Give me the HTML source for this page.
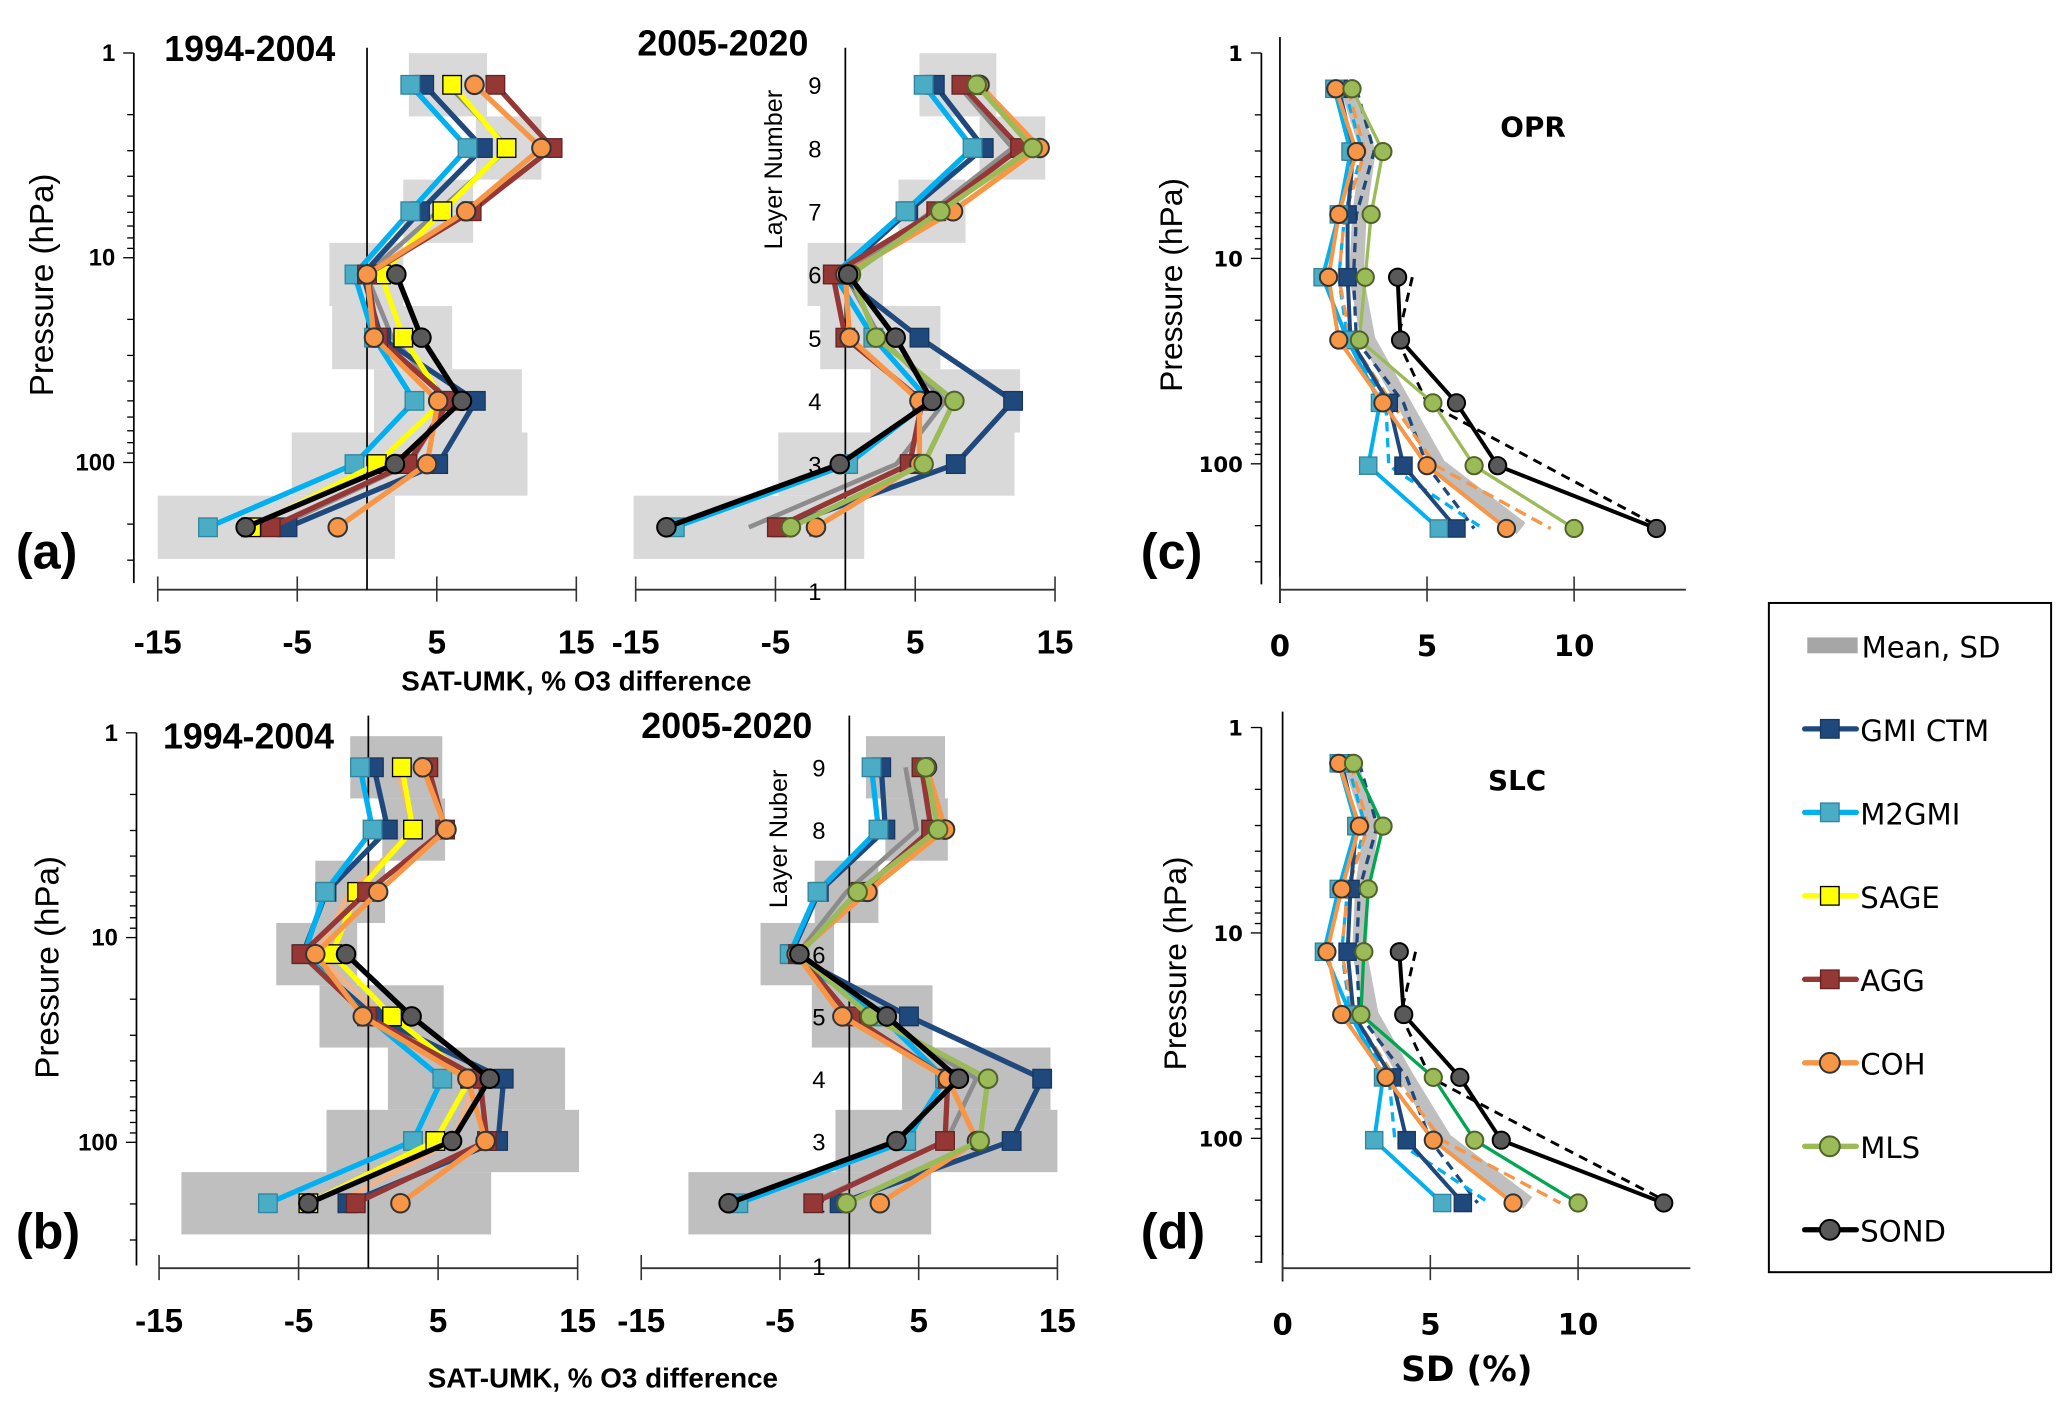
<!DOCTYPE html>
<html><head><meta charset="utf-8">
<style>
html,body{margin:0;padding:0;background:#fff;}
svg{display:block;}
.nar{font-family:"Liberation Sans Narrow","Liberation Sans",sans-serif;}
.dv{font-family:"DejaVu Sans","Liberation Sans",sans-serif;}
</style></head>
<body>
<svg id="fig" xmlns="http://www.w3.org/2000/svg" width="2067" height="1410" viewBox="0 0 1560 1064" preserveAspectRatio="none">
<rect x="0" y="0" width="1560" height="1064" fill="#fff"/>
<g id="layer-boxes"></g>
<g id="layer-axes"></g>
<g id="layer-series"></g>
<g id="layer-text">
<text x="12" y="429" font-size="38" font-weight="bold" class="nar">(a)</text>
<text x="12" y="942" font-size="38" font-weight="bold" class="nar">(b)</text>
<text x="861" y="429" font-size="38" font-weight="bold" class="nar">(c)</text>
<text x="861" y="942" font-size="38" font-weight="bold" class="nar">(d)</text>
<text x="124" y="46" font-size="27" font-weight="bold" class="nar">1994-2004</text>
<text x="481" y="42" font-size="27" font-weight="bold" class="nar">2005-2020</text>
<text x="123" y="565" font-size="27" font-weight="bold" class="nar">1994-2004</text>
<text x="484" y="557" font-size="27" font-weight="bold" class="nar">2005-2020</text>
<text transform="translate(40,215) rotate(-90)" text-anchor="middle" font-size="25" font-family="Liberation Sans, sans-serif">Pressure (hPa)</text>
<text transform="translate(44,730) rotate(-90)" text-anchor="middle" font-size="25" font-family="Liberation Sans, sans-serif">Pressure (hPa)</text>
<text transform="translate(892,215) rotate(-90)" text-anchor="middle" font-size="24" class="nar">Pressure (hPa)</text>
<text transform="translate(895,727) rotate(-90)" text-anchor="middle" font-size="24" class="nar">Pressure (hPa)</text>
<text transform="translate(590,128) rotate(-90)" text-anchor="middle" font-size="19" font-family="Liberation Sans, sans-serif">Layer Number</text>
<text transform="translate(594,633) rotate(-90)" text-anchor="middle" font-size="19" font-family="Liberation Sans, sans-serif">Layer Nuber</text>
<text x="435" y="521" text-anchor="middle" font-size="21" font-weight="bold" class="nar">SAT-UMK, % O3 difference</text>
<text x="455" y="1047" text-anchor="middle" font-size="21" font-weight="bold" class="nar">SAT-UMK, % O3 difference</text>
<text x="1107" y="1042" text-anchor="middle" font-size="26" font-weight="bold" class="dv">SD (%)</text>
<text x="1157" y="103" text-anchor="middle" font-size="21" font-weight="bold" class="dv">OPR</text>
<text x="1145" y="596" text-anchor="middle" font-size="21" font-weight="bold" class="dv">SLC</text>
</g>
<g id="legend">
<rect x="1335" y="455" width="213" height="505" fill="#fff" stroke="#000" stroke-width="1.5"/>
</g>
</svg>
<script>
// ---------- DATA ----------
const layers = [9,8,7,6,5,4,3,2];
const pressureTicks = [1,10,100];
const pressureTickLabels = ["1","10","100"];
const diffTicks = [-15,-5,5,15];
const diffTickLabels = ["-15","-5","5","15"];
const sdTicks = [0,5,10];
const sdTickLabels = ["0","5","10"];
const layerLabels = [1,2,3,4,5,6,7,8,9];
const seriesNames = ["GMI CTM","M2GMI","SAGE","AGG","COH","MLS","SOND"];

// Panel (a) 1994-2004
const a1_gmi  = [4.1,8.3,3.8,-0.3,1.0,7.8,5.1,-5.7];
const a1_m2   = [3.1,7.2,3.1,-0.9,0.5,3.4,-0.9,-11.4];
const a1_sage = [6.1,10.0,5.4,1.0,2.6,5.5,0.7,-8.3];
const a1_agg  = [9.2,13.3,7.5,0.0,0.8,5.9,2.9,-6.9];
const a1_coh  = [7.7,12.5,7.1,0.0,0.5,5.1,4.3,-2.1];
const a1_sond = [null,null,null,2.1,3.9,6.8,2.0,-8.7];
const a1_mean = [5.8,10.15,5.1,-0.05,1.8,5.8,3.05,-6.5];
const a1_sd   = [2.8,2.35,2.5,2.65,4.3,5.3,8.45,8.5];
// Panel (a) 2005-2020
const a2_gmi  = [6.4,9.9,4.5,-0.5,5.3,12.0,7.9,-4.6];
const a2_m2   = [5.6,9.1,4.3,-0.8,2.0,6.0,0.2,-12.2];
const a2_agg  = [8.3,12.5,6.5,-0.9,0.0,5.5,4.6,-4.9];
const a2_coh  = [9.6,13.9,7.7,0.0,0.3,5.3,5.3,-2.1];
const a2_mls  = [9.4,13.4,6.8,0.4,2.2,7.8,5.6,-3.9];
const a2_sond = [null,null,null,0.2,3.6,6.2,-0.4,-12.8];
const a2_mean = [8.05,11.95,6.2,0.0,2.5,7.15,3.65,-6.9];
const a2_sd   = [2.75,2.35,2.4,2.7,4.3,5.35,8.45,8.25];
// Panel (b) 1994-2004
const b1_gmi  = [0.4,1.4,-3.0,-4.7,0.4,9.7,9.3,-1.5];
const b1_m2   = [-0.6,0.3,-3.1,-4.6,-0.1,5.3,3.2,-7.2];
const b1_sage = [2.4,3.2,-0.8,-2.6,1.7,7.3,4.8,-4.3];
const b1_agg  = [4.3,5.5,-0.1,-4.8,-0.1,8.0,8.5,-0.9];
const b1_coh  = [3.9,5.6,0.7,-3.8,-0.4,7.1,8.4,2.3];
const b1_sond = [null,null,null,-1.6,3.1,8.7,6.0,-4.3];
const b1_mean = [2.0,3.25,-1.3,-3.7,0.95,7.75,6.05,-2.3];
const b1_sd   = [3.3,2.25,2.5,2.9,4.45,6.35,9.05,11.1];
// Panel (b) 2005-2020
const b2_gmi  = [2.3,2.6,-2.2,-4.2,4.3,13.9,11.7,-0.7];
const b2_m2   = [1.6,2.1,-2.3,-4.3,2.3,6.9,4.1,-8.0];
const b2_agg  = [5.2,5.9,0.8,-3.7,0.1,7.1,6.9,-2.6];
const b2_coh  = [5.6,6.9,1.3,-3.8,-0.5,7.1,9.2,2.2];
const b2_mls  = [5.5,6.4,0.6,-3.6,1.5,10.0,9.4,-0.2];
const b2_sond = [null,null,null,-3.6,2.7,7.9,3.4,-8.7];
const b2_mean = [4.05,4.85,-0.2,-3.75,1.65,9.15,7.0,-2.85];
const b2_sd   = [2.85,2.25,2.3,2.65,4.35,5.35,8.0,8.75];
// Panel (c) OPR SD
const c_gmi  = [2.0,2.5,2.3,2.3,2.4,3.7,4.2,6.0];
const c_m2   = [1.85,2.4,2.0,1.45,2.3,3.4,3.0,5.4];
const c_coh  = [1.9,2.6,2.0,1.65,2.0,3.5,5.0,7.7];
const c_mls  = [2.45,3.5,3.1,2.9,2.7,5.2,6.6,10.0];
const c_sond = [null,null,null,4.0,4.1,6.0,7.4,12.8];
const c_mean = [2.3,3.0,2.7,2.6,3.0,4.2,5.4,8.2];
const c_gmiD  = [2.6,3.2,2.6,2.5,2.6,4.2,5.0,6.6];
const c_m2D   = [2.2,2.8,2.2,2.0,2.3,3.6,3.7,6.9];
const c_cohD  = [2.3,2.9,2.2,2.0,2.4,3.8,5.3,9.2];
const c_sondD = [null,null,null,4.5,4.0,5.0,9.0,13.0];
// Panel (d) SLC SD
const d_gmi  = [2.0,2.5,2.3,2.2,2.4,3.7,4.2,6.1];
const d_m2   = [1.9,2.5,1.9,1.4,2.3,3.4,3.1,5.4];
const d_coh  = [1.9,2.6,2.0,1.5,2.0,3.5,5.1,7.8];
const d_mls  = [2.4,3.4,2.9,2.75,2.65,5.1,6.5,10.0];
const d_sond = [null,null,null,3.95,4.1,6.0,7.4,12.9];
const d_mean = [2.3,3.0,2.7,2.6,3.0,4.2,5.5,8.3];
const d_gmiD  = [2.6,3.2,2.6,2.5,2.6,4.2,5.0,6.6];
const d_m2D   = [2.2,2.8,2.2,2.0,2.3,3.6,3.8,7.0];
const d_cohD  = [2.3,2.9,2.2,2.0,2.4,3.8,5.4,9.4];
const d_sondD = [null,null,null,4.5,4.0,5.0,9.0,13.1];

// ---------- RENDERING ----------
const NS = "http://www.w3.org/2000/svg";
const gBox = document.getElementById("layer-boxes");
const gAx = document.getElementById("layer-axes");
const gSer = document.getElementById("layer-series");
const gLeg = document.getElementById("legend");
function mk(parent, tag, attrs, txt){
  const el = document.createElementNS(NS, tag);
  for (const k in attrs) el.setAttribute(k, attrs[k]);
  if (txt !== undefined) el.textContent = txt;
  parent.appendChild(el);
  return el;
}
const ST = {
  gmi:  {line:"#1f497d", fill:"#1f497d", stroke:"#17375e", shape:"sq"},
  m2:   {line:"#00b0f0", fill:"#4bacc6", stroke:"#31859c", shape:"sq"},
  sage: {line:"#ffff00", fill:"#ffff00", stroke:"#000", shape:"sq"},
  agg:  {line:"#953735", fill:"#953735", stroke:"#632523", shape:"sq"},
  coh:  {line:"#f79646", fill:"#f79646", stroke:"#333", shape:"ci"},
  mls:  {line:"#9bbb59", fill:"#9bbb59", stroke:"#4f6228", shape:"ci"},
  sond: {line:"#000000", fill:"#595959", stroke:"#000", shape:"ci"}
};
function makeX(x0, k){ return v => x0 + v*k; }
function makeLayerY(y9, step){ return L => y9 + (9-L)*step; }
function makeLogY(top, dec){ return p => top + dec*Math.log10(p); }

function drawSeries(name, vals, st, X, Y, o){
  const g = mk(gSer, "g", {});
  
  
  const pts = [];
  layers.forEach((L,i)=>{ if (vals[i]!==null) pts.push([X(vals[i]), Y(L)]); });
  const pl = mk(g, "polyline", {points: pts.map(p=>p.join(",")).join(" "), fill:"none",
    stroke: o.lineColor || st.line, "stroke-width": o.lw, "stroke-linejoin":"round",
    "stroke-dasharray": o.dash || "none"});
  
  
  if (o.dash) return;
  pts.forEach(p=>{
    let m;
    if (st.shape === "sq") {
      m = mk(g, "rect", {x:p[0]-o.ms/2, y:p[1]-o.ms/2, width:o.ms, height:o.ms, fill:st.fill, stroke:st.stroke, "stroke-width":1});
    } else {
      m = mk(g, "circle", {cx:p[0], cy:p[1], r:o.ms/2, fill:st.fill, stroke:st.stroke, "stroke-width":1.5});
    }
    
    
  });
}

function drawBoxes(name, mean, sd, X, Y, step, color){
  layers.forEach((L,i)=>{
    const r = mk(gBox, "rect", {x:X(mean[i]-sd[i]), y:Y(L)-step/2, width:X(mean[i]+sd[i])-X(mean[i]-sd[i]), height:step, fill:color});
    
    
  });
}
function drawMeanLine(name, mean, X, Y, lw, color){
  const pts = layers.map((L,i)=>[X(mean[i]), Y(L)]);
  const pl = mk(gBox, "polyline", {points: pts.map(p=>p.join(",")).join(" "), fill:"none", stroke:color, "stroke-width":lw, "stroke-linejoin":"round"});
  
  
}

function drawPressureAxis(name, ax, PY, bottom, cls, fs){
  const ln = mk(gAx, "line", {x1:ax, y1:PY(1), x2:ax, y2:bottom, stroke:"#000", "stroke-width":1.3});
  
  
  for (let d=1; d<=100; d*=10){
    for (let m=1; m<=9; m++){
      const y = PY(d*m);
      if (y > bottom) break;
      const t = mk(gAx, "line", {x1: ax-(m===1?8:5), y1:y, x2:ax, y2:y, stroke:"#000", "stroke-width":1});
      
      
    }
  }
  pressureTicks.forEach((p,i)=>{
    const t = mk(gAx, "text", {x:ax-14, y:PY(p)+6, "text-anchor":"end", "font-size":fs, "font-weight":"bold", class:cls}, pressureTickLabels[i]);
    
    
  });
}
function drawXAxis(name, X, y, xmin, xmax, ticks, labels, cls, fs, labOff){
  const ln = mk(gAx, "line", {x1:X(xmin), y1:y, x2:X(xmax), y2:y, stroke:"#333", "stroke-width":1.4});
  
  
  ticks.forEach((v,i)=>{
    const t = mk(gAx, "line", {x1:X(v), y1:y-10, x2:X(v), y2:y+9, stroke:"#333", "stroke-width":1.2});
    
    
    const l = mk(gAx, "text", {x:X(v), y:y+labOff, "text-anchor":"middle", "font-size":fs, "font-weight":"bold", class:cls}, labels[i]);
    
    
  });
}
function drawLayerAxis(name, X, Y, top, bottom){
  const ln = mk(gAx, "line", {x1:X(0), y1:top, x2:X(0), y2:bottom, stroke:"#000", "stroke-width":1.3});
  
  
  layerLabels.forEach(L=>{
    const t = mk(gAx, "text", {x:X(0)-23, y:Y(L)+7, "text-anchor":"middle", "font-size":18, class:"nar"}, String(L));
    
    
  });
}

const diffOpt = {lw:4, ms:14};
// ---- Panel (a) left
(function(){
  const X = makeX(277, 10.53), Y = makeLayerY(64, 47.7), PY = makeLogY(40, 154.5);
  drawBoxes("a-1994", a1_mean, a1_sd, X, Y, 47.7, "#d9d9d9");
  drawMeanLine("a-1994", a1_mean, X, Y, 3.5, "#8c8c8c");
  drawPressureAxis("a-left", 101, PY, 440, "nar", 18);
  drawXAxis("a-left", X, 445, -15, 15, diffTicks, diffTickLabels, "nar", 25, 48);
  const z = mk(gAx, "line", {x1:X(0), y1:36, x2:X(0), y2:445, stroke:"#000", "stroke-width":1.3});
  
  
  drawSeries("a-1994-gmi", a1_gmi, ST.gmi, X, Y, diffOpt);
  drawSeries("a-1994-m2gmi", a1_m2, ST.m2, X, Y, diffOpt);
  drawSeries("a-1994-sage", a1_sage, ST.sage, X, Y, diffOpt);
  drawSeries("a-1994-agg", a1_agg, ST.agg, X, Y, diffOpt);
  drawSeries("a-1994-coh", a1_coh, ST.coh, X, Y, diffOpt);
  drawSeries("a-1994-sond", a1_sond, ST.sond, X, Y, diffOpt);
})();
// ---- Panel (a) right
(function(){
  const X = makeX(638, 10.55), Y = makeLayerY(64, 47.7);
  drawBoxes("a-2005", a2_mean, a2_sd, X, Y, 47.7, "#d9d9d9");
  drawMeanLine("a-2005", a2_mean, X, Y, 3.5, "#8c8c8c");
  drawXAxis("a-right", X, 445, -15, 15, diffTicks, diffTickLabels, "nar", 25, 48);
  drawLayerAxis("a-right", X, Y, 36, 445);
  drawSeries("a-2005-gmi", a2_gmi, ST.gmi, X, Y, diffOpt);
  drawSeries("a-2005-m2gmi", a2_m2, ST.m2, X, Y, diffOpt);
  drawSeries("a-2005-agg", a2_agg, ST.agg, X, Y, diffOpt);
  drawSeries("a-2005-coh", a2_coh, ST.coh, X, Y, diffOpt);
  drawSeries("a-2005-mls", a2_mls, ST.mls, X, Y, diffOpt);
  drawSeries("a-2005-sond", a2_sond, ST.sond, X, Y, diffOpt);
})();
// ---- Panel (b) left
(function(){
  const X = makeX(278, 10.53), Y = makeLayerY(579, 47.0), PY = makeLogY(553, 154.5);
  drawBoxes("b-1994", b1_mean, b1_sd, X, Y, 47.0, "#bfbfbf");
  drawMeanLine("b-1994", b1_mean, X, Y, 3.5, "#f4b183");
  drawPressureAxis("b-left", 103, PY, 955, "nar", 18);
  drawXAxis("b-left", X, 957, -15, 15, diffTicks, diffTickLabels, "nar", 25, 48);
  const z = mk(gAx, "line", {x1:X(0), y1:540, x2:X(0), y2:957, stroke:"#000", "stroke-width":1.3});
  
  
  drawSeries("b-1994-gmi", b1_gmi, ST.gmi, X, Y, diffOpt);
  drawSeries("b-1994-m2gmi", b1_m2, ST.m2, X, Y, diffOpt);
  drawSeries("b-1994-sage", b1_sage, ST.sage, X, Y, diffOpt);
  drawSeries("b-1994-agg", b1_agg, ST.agg, X, Y, diffOpt);
  drawSeries("b-1994-coh", b1_coh, ST.coh, X, Y, diffOpt);
  drawSeries("b-1994-sond", b1_sond, ST.sond, X, Y, diffOpt);
})();
// ---- Panel (b) right
(function(){
  const X = makeX(641, 10.47), Y = makeLayerY(579, 47.0);
  drawBoxes("b-2005", b2_mean, b2_sd, X, Y, 47.0, "#bfbfbf");
  drawMeanLine("b-2005", b2_mean, X, Y, 3.5, "#8c8c8c");
  drawXAxis("b-right", X, 957, -15, 15, diffTicks, diffTickLabels, "nar", 25, 48);
  drawLayerAxis("b-right", X, Y, 540, 957);
  drawSeries("b-2005-gmi", b2_gmi, ST.gmi, X, Y, diffOpt);
  drawSeries("b-2005-m2gmi", b2_m2, ST.m2, X, Y, diffOpt);
  drawSeries("b-2005-agg", b2_agg, ST.agg, X, Y, diffOpt);
  drawSeries("b-2005-coh", b2_coh, ST.coh, X, Y, diffOpt);
  drawSeries("b-2005-mls", b2_mls, ST.mls, X, Y, diffOpt);
  drawSeries("b-2005-sond", b2_sond, ST.sond, X, Y, diffOpt);
})();
// ---- Panels (c) and (d)
function sdPanel(tag, x0, k, y9, ptop, axisY, d){
  const X = makeX(x0, k), Y = makeLayerY(y9, 47.4), PY = makeLogY(ptop, 155);
  const pts = layers.map((L,i)=>[X(d.mean[i]), Y(L)]);
  const band = mk(gBox, "polyline", {points: pts.map(p=>p.join(",")).join(" "), fill:"none", stroke:"#bfbfbf", "stroke-width":11, "stroke-linejoin":"round"});
  
  
  drawPressureAxis(tag, 952, PY, axisY-4, "dv", 16);
  const v = mk(gAx, "line", {x1:X(0), y1:ptop-12, x2:X(0), y2:axisY+10, stroke:"#000", "stroke-width":1.3});
  
  
  drawXAxis(tag, X, axisY, 0, 13.8, sdTicks, sdTickLabels, "dv", 22, 50);
  const sOpt = {lw:3, ms:13};
  drawSeries(tag + "-gmi-dashed", d.gmiD, ST.gmi, X, Y, {lw:2.5, dash:"7,5"});
  drawSeries(tag + "-m2gmi-dashed", d.m2D, ST.m2, X, Y, {lw:2.5, dash:"7,5"});
  drawSeries(tag + "-coh-dashed", d.cohD, ST.coh, X, Y, {lw:2.5, dash:"9,5"});
  drawSeries(tag + "-sond-dashed", d.sondD, ST.sond, X, Y, {lw:2.2, dash:"7,5"});
  drawSeries(tag + "-gmi", d.gmi, ST.gmi, X, Y, sOpt);
  drawSeries(tag + "-m2gmi", d.m2, ST.m2, X, Y, sOpt);
  drawSeries(tag + "-coh", d.coh, ST.coh, X, Y, sOpt);
  drawSeries(tag + "-mls", d.mls, ST.mls, X, Y, {lw:2.5, ms:13, lineColor:d.mlsColor});
  drawSeries(tag + "-sond", d.sond, ST.sond, X, Y, sOpt);
}
sdPanel("c", 966, 22.2, 67, 40, 445, {gmi:c_gmi, m2:c_m2, coh:c_coh, mls:c_mls, sond:c_sond, mean:c_mean, gmiD:c_gmiD, m2D:c_m2D, cohD:c_cohD, sondD:c_sondD, mlsColor:"#9bbb59"});
sdPanel("d", 968, 22.3, 576, 549, 957, {gmi:d_gmi, m2:d_m2, coh:d_coh, mls:d_mls, sond:d_sond, mean:d_mean, gmiD:d_gmiD, m2D:d_m2D, cohD:d_cohD, sondD:d_sondD, mlsColor:"#00a650"});

// ---- Legend
const legKeys = ["gmi","m2","sage","agg","coh","mls","sond"];
(function(){
  const y0 = 487, dy = 63;
  const mr = mk(gLeg, "rect", {x:1364, y:y0-6, width:38, height:12, fill:"#a6a6a6"});
  
  
  const mt = mk(gLeg, "text", {x:1405, y:y0+9, "font-size":22, class:"dv"}, "Mean, SD");
  
  
  seriesNames.forEach((nm,i)=>{
    const st = ST[legKeys[i]], y = y0 + (i+1)*dy;
    const l = mk(gLeg, "line", {x1:1362, y1:y, x2:1401, y2:y, stroke:st.line, "stroke-width":4, "stroke-linecap":"round"});
    
    
    let m;
    if (st.shape === "sq") m = mk(gLeg, "rect", {x:1374, y:y-7, width:14, height:14, fill:st.fill, stroke:st.stroke, "stroke-width":1});
    else m = mk(gLeg, "circle", {cx:1381, cy:y, r:7.5, fill:st.fill, stroke:st.stroke, "stroke-width":1.5});
    
    
    const t = mk(gLeg, "text", {x:1404, y:y+9, "font-size":22, class:"dv"}, nm);
    
    
  });
})();
</script>
</body></html>
